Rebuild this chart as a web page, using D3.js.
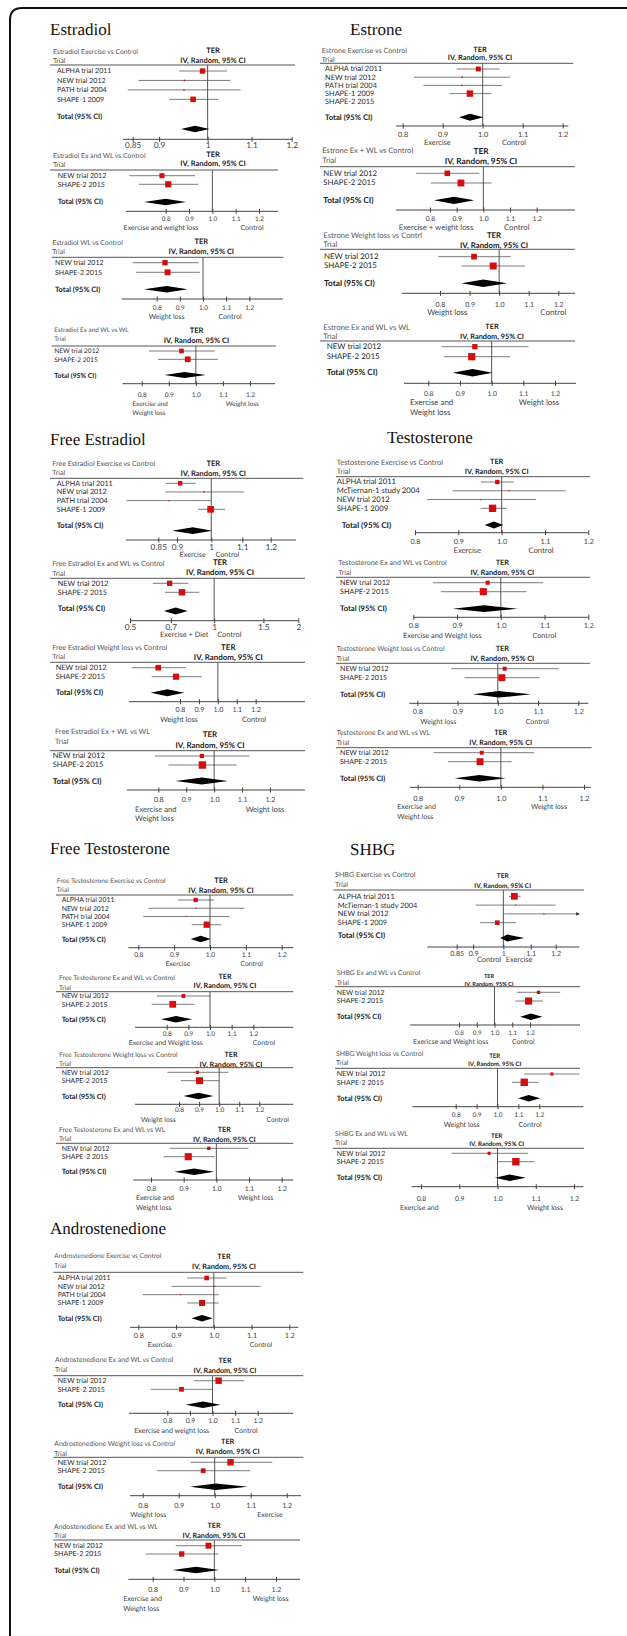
<!DOCTYPE html>
<html>
<head>
<meta charset="utf-8">
<script src="https://cdn.jsdelivr.net/npm/d3@7"></script>
<style>
body { margin: 0; background: #fff; }
svg text { font-family: Lato, "Open Sans", sans-serif; text-rendering: geometricPrecision; }
</style>
</head>
<body>
<script>
var w = 627;
var h = 1636;

// ---- data ----
var hormones = ["Estradiol", "Estrone", "Free Estradiol", "Testosterone", "Free Testosterone", "SHBG", "Androstenedione"];

var panelNames = [
  "Estradiol Exercise vs Control", "Estradiol Ex and WL vs Control", "Estradiol WL vs Control", "Estradiol Ex and WL vs WL",
  "Estrone Exercise vs Control", "Estrone Ex + WL vs Control", "Estrone Weight loss vs Contrl", "Estrone Ex and WL vs WL",
  "Free Estradiol Exercise vs Control", "Free Estradiol Ex and WL vs Control", "Free Estradiol Weight loss vs Control", "Free Estradiol Ex + WL vs WL",
  "Testosterone Exercise vs Control", "Testosterone Ex and WL vs Control", "Testosterone Weight loss vs Control", "Testosterone Ex and WL vs WL",
  "Free Testosterone Exercise vs Control", "Free Testosterone Ex and WL vs Control", "Free Testosterone Weight loss vs Control", "Free Testosterone Ex and WL vs WL",
  "SHBG Exercise vs Control", "SHBG Ex and WL vs Control", "SHBG Weight loss vs Control", "SHBG Ex and WL vs WL",
  "Androstenedione Exercise vs Control", "Androstenedione Ex and WL vs Control", "Androstenedione Weight loss vs Control", "Andostenedione Ex and WL vs WL"
];

var exTrials = ["ALPHA trial 2011", "NEW trial 2012", "PATH trial 2004", "SHAPE-1 2009"];
var exTrials5 = ["ALPHA trial 2011", "NEW trial 2012", "PATH trial 2004", "SHAPE-1 2009", "SHAPE-2 2015"];
var mcTrials = ["ALPHA trial 2011", "McTiernan-1 study 2004", "NEW trial 2012", "SHAPE-1 2009"];
var wlTrials = ["NEW trial 2012", "SHAPE-2 2015"];

var panelTrials = [
  exTrials, wlTrials, wlTrials, wlTrials,
  exTrials5, wlTrials, wlTrials, wlTrials,
  exTrials, wlTrials, wlTrials, wlTrials,
  mcTrials, wlTrials, wlTrials, wlTrials,
  exTrials, wlTrials, wlTrials, wlTrials,
  mcTrials, wlTrials, wlTrials, wlTrials,
  exTrials, wlTrials, wlTrials, wlTrials
];

// trial ratio estimates (TER) per row
var panelEst = [
  [0.989, 0.951, 0.950, 0.969], [0.784, 0.811], [0.836, 0.847], [0.947, 0.970],
  [0.989, 0.949, 0.949, 0.968, null], [0.865, 0.916], [0.915, 0.980], [0.947, 0.937],
  [0.909, 0.978, 0.878, 0.998], [0.693, 0.767], [0.685, 0.779], [0.956, 0.958],
  [0.990, 1.017, 0.952, 0.979], [0.970, 0.960], [1.017, 1.010], [0.954, 0.950],
  [0.960, 0.961, 0.933, 0.991], [0.877, 0.828], [0.892, 0.902], [0.977, 0.914],
  [1.039, 1.044, 1.152, 0.979], [1.248, 1.192], [1.260, 1.128], [0.978, 1.048],
  [0.981, 1.003, 0.912, 0.969], [1.027, 0.863], [1.044, 0.968], [0.981, 0.894]
];
var panelLo = [
  [0.940, 0.861, 0.841, 0.920], [0.644, 0.685], [0.697, 0.711], [0.827, 0.860],
  [0.935, 0.828, 0.852, 0.917, null], [0.748, 0.803], [0.794, 0.873], [0.842, 0.850],
  [0.869, 0.868, 0.771, 0.961], [0.603, 0.667], [0.544, 0.650], [0.788, 0.836],
  [0.952, 0.887, 0.828, 0.952], [0.845, 0.863], [0.884, 0.917], [0.838, 0.873],
  [0.911, 0.828, 0.814, 0.949], [0.754, 0.731], [0.742, 0.810], [0.858, 0.838],
  [1.020, 0.908, 1.003, 0.922], [1.126, 1.117], [1.128, 1.069], [0.880, 1.000],
  [0.930, 0.888, 0.812, 0.930], [0.917, 0.727], [0.933, 0.840], [0.875, 0.777]
];
var panelHi = [
  [1.043, 1.051, 1.074, 1.024], [0.926, 0.940], [0.982, 0.987], [1.069, 1.081],
  [1.042, 1.068, 1.048, 1.022, null], [0.985, 1.031], [1.039, 1.087], [1.116, 1.058],
  [0.953, 1.106, 1.000, 1.043], [0.808, 0.885], [0.832, 0.915], [1.126, 1.081],
  [1.028, 1.148, 1.079, 1.012], [1.097, 1.059], [1.152, 1.104], [1.080, 1.026],
  [1.011, 1.096, 1.054, 1.031], [1.000, 0.927], [1.047, 1.000], [1.098, 0.996],
  [1.062, 1.200, 1.400, 1.045], [1.370, 1.273], [1.392, 1.195], [1.080, 1.097],
  [1.034, 1.124, 1.013, 1.013], [1.140, 0.998], [1.160, 1.099], [1.089, 1.013]
];
// study weights (%)
var panelWeight = [
  [45, 4, 3, 48], [40, 60], [45, 55], [40, 60],
  [35, 3, 3, 59, 0], [40, 60], [40, 60], [35, 65],
  [30, 3, 2, 65], [40, 60], [45, 55], [25, 75],
  [25, 2, 2, 71], [25, 75], [25, 75], [25, 75],
  [30, 2, 2, 66], [25, 75], [18, 82], [18, 82],
  [65, 2, 2, 31], [18, 82], [15, 85], [15, 85],
  [35, 2, 2, 61], [65, 35], [65, 35], [55, 45]
];
var totalEst = [0.973, 0.800, 0.843, 0.958, 0.968, 0.890, 0.946, 0.940, 0.945, 0.728, 0.733, 0.956, 0.982, 0.962,
  1.002, 0.948, 0.974, 0.843, 0.897, 0.932, 1.014, 1.205, 1.149, 1.032, 0.969, 0.958, 1.003, 0.941];
var totalLo = [0.944, 0.707, 0.745, 0.884, 0.941, 0.815, 0.873, 0.877, 0.887, 0.661, 0.645, 0.862, 0.961, 0.890,
  0.938, 0.889, 0.946, 0.774, 0.822, 0.871, 0.989, 1.145, 1.099, 0.993, 0.941, 0.881, 0.931, 0.864];
var totalHi = [1.004, 0.887, 0.934, 1.037, 1.002, 0.966, 1.027, 1.003, 1.003, 0.804, 0.823, 1.049, 1.004, 1.038,
  1.083, 1.012, 1.002, 0.918, 0.972, 0.993, 1.076, 1.270, 1.205, 1.074, 0.997, 1.035, 1.092, 1.015];

var logTicks = [0.85, 0.9, 1, 1.1, 1.2];
var wideTicks = [0.5, 0.7, 1, 1.5, 2];
var linTicks = [0.8, 0.9, 1.0, 1.1, 1.2];
var panelTicks = [
  logTicks, linTicks, linTicks, linTicks,
  linTicks, linTicks, linTicks, linTicks,
  logTicks, wideTicks, linTicks, linTicks,
  linTicks, linTicks, linTicks, linTicks,
  linTicks, linTicks, linTicks, linTicks,
  logTicks, linTicks, linTicks, linTicks,
  linTicks, linTicks, linTicks, linTicks
];

var lowLabels = [
  "", "Exercise and weight loss", "Weight loss", "Exercise and\nWeight loss",
  "Exercise", "Exercise + weight loss", "Weight loss", "Exercise and\nWeight loss",
  "Exercise", "Exercise + Diet", "Weight loss", "Exercise and\nWeight loss",
  "Exercise", "Exercise and Weight loss", "Weight loss", "Exercise and\nWeight loss",
  "Exercise", "Exercise and Weight loss", "Weight loss", "Exercise and\nWeight loss",
  "Control", "Exericse and Weight loss", "Weight loss", "Exercise and",
  "Exercise", "Exercise and weight loss", "Weight loss", "Exercise and\nWeight loss"
];
var highLabels = [
  "", "Control", "Control", "Weight loss",
  "Control", "Control", "Control", "Weight loss",
  "Control", "Control", "Control", "Weight loss",
  "Control", "Control", "Control", "Weight loss",
  "Control", "Control", "Control", "Weight loss",
  "Exercise", "Control", "Control", "Weight loss",
  "Control", "Control", "Exercise", "Weight loss"
];

// ---- layout (pixel positions of each pasted panel) ----
var titlePos = [[50, 35], [350, 35], [50, 445], [387, 443], [50, 854], [350, 855], [50, 1234]];

var layout = [
  {sx:53, sy:52, tx:213, tery:50, ivy:60, triy:61, hx:[50,295], hy:65, rx:57, r0:71, dr:9.45, toty:116.3, diay:129, ax:[123,292], ay:139.3, px:[132.7,291.7], tly:145.5, lx:[0,0], ly:0, fs:7.5, rfs:6.6, kfs:8.3},
  {sx:53, sy:155.7, tx:213, tery:154.3, ivy:163.3, triy:165, hx:[50,278], hy:170, rx:57.7, r0:175.7, dr:8.6, toty:201.7, diay:202, ax:[126,278], ay:211.3, px:[165.7,259], tly:218.3, lx:[161,252], ly:227.7, fs:7.5, rfs:6.6, kfs:6.3},
  {sx:52.3, sy:242.3, tx:201.3, tery:241.7, ivy:251.7, triy:251.7, hx:[51.7,283.3], hy:257.3, rx:55, r0:262.7, dr:9.6, toty:289.3, diay:289.3, ax:[121.7,282.7], ay:299, px:[156.7,249.3], tly:307.3, lx:[166.7,230], ly:317, fs:7.5, rfs:6.6, kfs:6.5},
  {sx:54.3, sy:330, tx:196.5, tery:330, ivy:340.3, triy:339, hx:[51.7,275.7], hy:346, rx:54.3, r0:351, dr:8.3, toty:375, diay:375, ax:[122.7,275], ay:383.7, px:[141.7,250], tly:394.3, lx:[132.3,242.3], ly:403.3, fs:7.5, rfs:6.1, kfs:6.5},

  {sx:321.7, sy:51, tx:480, tery:49, ivy:57.7, triy:60, hx:[320,573.3], hy:63.3, rx:325, r0:69, dr:8.2, toty:117.3, diay:117.3, ax:[396,568.3], ay:126, px:[402.7,562.7], tly:134, lx:[437.3,514], ly:142.3, fs:7.4, rfs:6.9, kfs:7.3},
  {sx:322.3, sy:151, tx:481, tery:151, ivy:161, triy:160.7, hx:[320,575], hy:166.7, rx:323.3, r0:173.3, dr:9.7, toty:200.3, diay:200.3, ax:[396,575], ay:210, px:[430,536.7], tly:218.3, lx:[436,516.7], ly:227.7, fs:8.3, rfs:7.3, kfs:6.8},
  {sx:323.3, sy:236, tx:494, tery:235.3, ivy:245, triy:245, hx:[320,575], hy:249.3, rx:324, r0:256.7, dr:9.3, toty:283.3, diay:283.3, ax:[401.7,575], ay:293.3, px:[440,558.3], tly:304, lx:[447.3,553.3], ly:312.7, fs:7.8, rfs:7.4, kfs:7.0},
  {sx:323.3, sy:327.7, tx:492, tery:326.7, ivy:336, triy:336.7, hx:[320,575], hy:341, rx:326.7, r0:346.7, dr:10, toty:372.7, diay:372.7, ax:[404,576], ay:383.3, px:[428.3,555], tly:393.3, lx:[410,539], ly:402.7, fs:7.3, rfs:7.4, kfs:6.8},

  {sx:52.3, sy:463.3, tx:213.3, tery:463.3, ivy:473.3, triy:472.7, hx:[50,303.3], hy:478.3, rx:56.7, r0:483.3, dr:8.67, toty:525, diay:530.7, ax:[126,296], ay:540, px:[158.3,270.7], tly:546.7, lx:[192.7,227.3], ly:554.3, fs:7.5, rfs:6.8, kfs:8.3},
  {sx:52.3, sy:564, tx:220, tery:562.7, ivy:572.7, triy:573.7, hx:[50,305], hy:578.3, rx:57.7, r0:583.3, dr:9, toty:608, diay:611, ax:[130,298.3], ay:620.7, px:[130,298.3], tly:626.7, lx:[184.3,229.3], ly:634.3, fs:7.8, rfs:6.9, kfs:8.3},
  {sx:52.3, sy:647.3, tx:228.3, tery:647.3, ivy:657.3, triy:657, hx:[50,305], hy:662.3, rx:55.7, r0:667.7, dr:9, toty:692.7, diay:692.7, ax:[129,305], ay:701.7, px:[180,255.7], tly:709.3, lx:[179,254], ly:719.3, fs:7.9, rfs:6.9, kfs:7.0},
  {sx:55, sy:731.7, tx:210, tery:734.3, ivy:745, triy:741.7, hx:[50,305], hy:750.7, rx:52.7, r0:756, dr:9, toty:781, diay:781, ax:[126.7,305], ay:790, px:[158.3,270], tly:799.3, lx:[135,265], ly:809.3, fs:7.9, rfs:7.1, kfs:7.0},

  {sx:336.7, sy:462.3, tx:496.7, tery:461.7, ivy:471.7, triy:471.7, hx:[336,590], hy:476.7, rx:336.7, totx:341.7, r0:482, dr:8.77, toty:525, diay:525, ax:[415,588.3], ay:532.7, px:[415,588.3], tly:541, lx:[467.3,541], ly:551, fs:7.3, rfs:7.2, kfs:7.2},
  {sx:338.3, sy:562.7, tx:502.3, tery:562.7, ivy:572.3, triy:572.3, hx:[336,590], hy:577.3, rx:340, r0:582.7, dr:9, toty:608.7, diay:608.7, ax:[413.3,588.3], ay:617.3, px:[413.3,588.3], tly:625.7, lx:[442.3,544.3], ly:635.7, fs:7.3, rfs:6.8, kfs:7.2},
  {sx:336.7, sy:648.7, tx:502.3, tery:648.7, ivy:658.3, triy:658.3, hx:[336,590], hy:663.3, rx:340, r0:668.7, dr:9, toty:694.3, diay:694.3, ax:[409.3,588.3], ay:703.3, px:[417.3,578.3], tly:711.7, lx:[438.3,537.3], ly:721.7, fs:7.3, rfs:6.6, kfs:7.2},
  {sx:336.7, sy:732.7, tx:500.7, tery:732.7, ivy:742.3, triy:742.3, hx:[336,591.7], hy:747.7, rx:340, r0:752.7, dr:9, toty:778.3, diay:778.3, ax:[410,590.7], ay:787.3, px:[417.7,584], tly:798.3, lx:[397.3,549], ly:806.7, fs:7.2, rfs:6.6, kfs:7.2},

  {sx:56.7, sy:880.7, tx:221, tery:880.7, ivy:890.7, triy:890, hx:[56,293.3], hy:895, rx:61.7, r0:900, dr:8.23, toty:939, diay:939, ax:[128.3,293.3], ay:947.7, px:[138.3,281.7], tly:955, lx:[177.7,251.7], ly:964, fs:7.5, rfs:6.4, kfs:6.7},
  {sx:59, sy:977.7, tx:225, tery:976, ivy:985.7, triy:987.3, hx:[56,293.3], hy:991.7, rx:61.7, r0:996, dr:8.3, toty:1019.3, diay:1019.3, ax:[135,293.3], ay:1027.3, px:[166.7,253.3], tly:1034, lx:[165.7,264], ly:1042.7, fs:7.2, rfs:6.4, kfs:6.5},
  {sx:59, sy:1054.3, tx:231, tery:1054, ivy:1064.3, triy:1063.3, hx:[56,293.3], hy:1067.7, rx:61.7, r0:1072.3, dr:8.4, toty:1096, diay:1096, ax:[135,293.3], ay:1104.3, px:[179,259.3], tly:1110, lx:[158.3,277.7], ly:1119.3, fs:7.2, rfs:6.4, kfs:6.5},
  {sx:59, sy:1129.3, tx:224.3, tery:1129, ivy:1139, triy:1138.3, hx:[56,293.3], hy:1143.3, rx:61.7, r0:1148.3, dr:8.4, toty:1171.7, diay:1171.7, ax:[133.3,293.3], ay:1180, px:[151,281.7], tly:1188.3, lx:[136,255.7], ly:1197.7, fs:7.2, rfs:6.5, kfs:6.8},

  {sx:335, sy:875, tx:502.7, tery:875.7, ivy:885, triy:885, hx:[333.3,584], hy:890, rx:337.7, r0:896.3, dr:8.8, toty:935, diay:938, ax:[427.3,579.3], ay:947, px:[456.7,555.7], tly:953.3, lx:[489,519], ly:960, fs:6.5, rfs:6.9, kfs:7.1},
  {sx:336.7, sy:972.7, tx:489, tery:975, ivy:983.3, triy:982.3, hx:[335,580], hy:986.7, rx:336.7, r0:992.3, dr:8.7, toty:1016.7, diay:1016.7, ax:[410,580], ay:1025, px:[459,530], tly:1032.3, lx:[450.7,523.3], ly:1041.7, fs:5.6, rfs:6.5, kfs:6.3},
  {sx:336, sy:1053.3, tx:494.7, tery:1055.7, ivy:1063.3, triy:1062.7, hx:[335,580], hy:1068.3, rx:336.7, r0:1074, dr:8.3, toty:1098.3, diay:1098.3, ax:[412.3,583.3], ay:1106.7, px:[455.7,539.3], tly:1115, lx:[461.7,530], ly:1124.3, fs:6.1, rfs:6.6, kfs:6.5},
  {sx:335, sy:1134, tx:496.7, tery:1135, ivy:1143.3, triy:1142.7, hx:[333,584], hy:1148.3, rx:336.7, r0:1153.3, dr:8.4, toty:1177.7, diay:1177.7, ax:[411.7,583.3], ay:1186.7, px:[421,574], tly:1198.3, lx:[400,545], ly:1207.3, fs:6.3, rfs:6.6, kfs:6.8},

  {sx:54.3, sy:1255.7, tx:224, tery:1256.7, ivy:1266.7, triy:1265.7, hx:[53.3,303.3], hy:1272.3, rx:57.7, r0:1278, dr:8.33, toty:1318.3, diay:1318.3, ax:[130,298.3], ay:1327.3, px:[138.3,289.3], tly:1335, lx:[160,261], ly:1344.3, fs:7.3, rfs:6.4, kfs:7.2},
  {sx:55, sy:1360, tx:225, tery:1360, ivy:1370, triy:1369.3, hx:[53.3,303.3], hy:1375.7, rx:57.7, r0:1380.7, dr:8.6, toty:1404.7, diay:1404.7, ax:[129,293.3], ay:1413.3, px:[167.3,257.7], tly:1420.7, lx:[171.7,246], ly:1430.7, fs:7.2, rfs:6.6, kfs:6.8},
  {sx:54.3, sy:1443.3, tx:227.7, tery:1441.7, ivy:1451.7, triy:1453.3, hx:[53.3,303.3], hy:1457.3, rx:57.7, r0:1462.3, dr:8.4, toty:1486.7, diay:1486.7, ax:[130,301], ay:1495.7, px:[142.7,286.7], tly:1505, lx:[148.3,270], ly:1514.3, fs:7.3, rfs:6.6, kfs:7.2},
  {sx:54, sy:1526.7, tx:214, tery:1525, ivy:1535, triy:1536, hx:[53.3,300], hy:1540, rx:54.3, r0:1545.7, dr:8.3, toty:1570, diay:1570, ax:[128.3,300], ay:1579.3, px:[152.7,276], tly:1589.3, lx:[123.3,270.7], ly:1599, fs:7.2, rfs:6.6, kfs:7.0}
];

var svg = d3.select("body")
    .append("svg")
    .attr("width", w)
    .attr("height", h);

svg.append("rect").attr("width", w).attr("height", h).attr("fill", "#fff");

// frame: left and top edge with rounded corner
svg.append("path")
    .attr("d", "M10," + h + " L10,20 Q10,8 22,8 L" + w + ",8")
    .attr("fill", "none")
    .attr("stroke", "#111")
    .attr("stroke-width", 2);

svg.selectAll("text.hormone")
    .data(hormones)
    .enter().append("text")
    .attr("class", "hormone")
    .attr("x", function(d, i) { return titlePos[i][0]; })
    .attr("y", function(d, i) { return titlePos[i][1]; })
    .style("font-family", "'Liberation Serif', 'DejaVu Serif', serif")
    .style("font-size", "17px")
    .attr("fill", "#111")
    .text(function(d) { return d; });

var fmtLog = d3.format("~g");
var fmtLin = d3.format(".1f");

function drawPanel(i) {
    var L = layout[i];
    var ticks = panelTicks[i];
    var isLog = ticks !== linTicks;
    var x = (isLog ? d3.scaleLog() : d3.scaleLinear())
        .domain([ticks[0], ticks[ticks.length - 1]])
        .range(L.px);
    var k = L.rfs / 6.6;
    var rf = L.rfs * 1.07;   // row label size
    var size = d3.scaleSqrt().domain([0, 100]).range([0, 8 * k]);
    var g = svg.append("g");

    // headings
    g.append("text").attr("x", L.sx).attr("y", L.sy + 2.3)
        .attr("font-size", L.rfs * 1.04).attr("fill", "#555").text(panelNames[i]);
    g.append("text").attr("x", L.sx).attr("y", L.triy + 2.3)
        .attr("font-size", L.rfs * 1.04).attr("fill", "#555").text("Trial");
    g.append("text").attr("x", L.tx).attr("y", L.tery + 2.6)
        .attr("text-anchor", "middle").attr("font-weight", "bold")
        .attr("font-size", L.fs).attr("fill", "#222").text("TER");
    g.append("text").attr("x", L.tx).attr("y", L.ivy + 2.6)
        .attr("text-anchor", "middle").attr("font-weight", "bold")
        .attr("font-size", L.fs).attr("fill", "#222").text("IV, Random, 95% CI");
    g.append("line")
        .attr("x1", L.hx[0]).attr("x2", L.hx[1])
        .attr("y1", L.hy).attr("y2", L.hy)
        .attr("stroke", "#555").attr("stroke-width", 1);

    // null line
    g.append("line")
        .attr("x1", x(1)).attr("x2", x(1))
        .attr("y1", L.hy).attr("y2", L.ay)
        .attr("stroke", "#555").attr("stroke-width", 1);

    var rows = panelTrials[i].map(function(name, j) {
        return {name: name, est: panelEst[i][j], lo: panelLo[i][j], hi: panelHi[i][j],
                wt: panelWeight[i][j], y: L.r0 + j * L.dr};
    });

    g.selectAll("text.row")
        .data(rows)
        .enter().append("text")
        .attr("x", L.rx)
        .attr("y", function(d) { return d.y + 2.4; })
        .attr("font-size", rf)
        .attr("fill", "#2a2a2a")
        .text(function(d) { return d.name; });

    var pts = rows.filter(function(d) { return d.est != null; });

    g.selectAll("line.ci")
        .data(pts)
        .enter().append("line")
        .attr("x1", function(d) { return Math.max(x(d.lo), L.ax[0]); })
        .attr("x2", function(d) { return Math.min(x(d.hi), L.ax[1]); })
        .attr("y1", function(d) { return d.y; })
        .attr("y2", function(d) { return d.y; })
        .attr("stroke", "#444")
        .attr("stroke-width", 0.7);

    // arrow where the interval runs off the axis
    g.selectAll("path.arrow")
        .data(pts.filter(function(d) { return x(d.hi) > L.ax[1]; }))
        .enter().append("path")
        .attr("d", function(d) {
            var xe = L.ax[1];
            return "M" + (xe - 3) + "," + (d.y - 1.8) + " L" + xe + "," + d.y + " L" + (xe - 3) + "," + (d.y + 1.8) + "Z";
        })
        .attr("fill", "#222");

    g.selectAll("rect.pt")
        .data(pts)
        .enter().append("rect")
        .attr("x", function(d) { return x(d.est) - size(d.wt) / 2; })
        .attr("y", function(d) { return d.y - size(d.wt) / 2; })
        .attr("width", function(d) { return size(d.wt); })
        .attr("height", function(d) { return size(d.wt); })
        .attr("fill", "#d20f0f");

    g.append("text")
        .attr("x", L.totx || L.rx)
        .attr("y", L.toty + 2.5)
        .attr("font-size", L.rfs * 1.12)
        .attr("font-weight", "bold")
        .attr("fill", "#222")
        .text("Total (95% CI)");

    var dh = 3.3 * k;
    g.append("path")
        .attr("d", "M" + x(totalLo[i]) + "," + L.diay +
                   " L" + x(totalEst[i]) + "," + (L.diay - dh) +
                   " L" + x(totalHi[i]) + "," + L.diay +
                   " L" + x(totalEst[i]) + "," + (L.diay + dh) + "Z")
        .attr("fill", "#000");

    // axis
    g.append("line")
        .attr("x1", L.ax[0]).attr("x2", L.ax[1])
        .attr("y1", L.ay).attr("y2", L.ay)
        .attr("stroke", "#444").attr("stroke-width", 1);

    var axis = d3.axisBottom(x)
        .tickValues(ticks)
        .tickFormat(isLog ? fmtLog : fmtLin)
        .tickSize(2.5);
    var ag = g.append("g")
        .attr("transform", "translate(0," + L.ay + ")")
        .call(axis);
    ag.select(".domain").remove();
    ag.attr("font-family", null).attr("font-size", null);
    ag.selectAll(".tick line")
        .attr("y1", -2.5).attr("y2", 2.5)
        .attr("stroke", "#444");
    ag.selectAll(".tick text")
        .attr("y", L.tly - L.ay + L.kfs * 0.36)
        .attr("dy", null)
        .attr("font-size", L.kfs)
        .attr("fill", "#444");

    // direction labels
    var low = lowLabels[i], high = highLabels[i];
    if (low) {
        var multi = low.indexOf("\n") >= 0 || low === "Exercise and";
        var t = g.append("text")
            .attr("x", L.lx[0])
            .attr("y", L.ly + 2.4)
            .attr("text-anchor", multi ? "start" : "middle")
            .attr("font-size", rf)
            .attr("fill", "#444");
        low.split("\n").forEach(function(s, j) {
            t.append("tspan").attr("x", L.lx[0]).attr("dy", j ? 9.6 : 0).text(s);
        });
    }
    if (high) {
        g.append("text")
            .attr("x", L.lx[1])
            .attr("y", L.ly + 2.4)
            .attr("text-anchor", "middle")
            .attr("font-size", rf)
            .attr("fill", "#444")
            .text(high);
    }
}

for (var i = 0; i < layout.length; i++) {
    drawPanel(i);
}
</script>
</body>
</html>
